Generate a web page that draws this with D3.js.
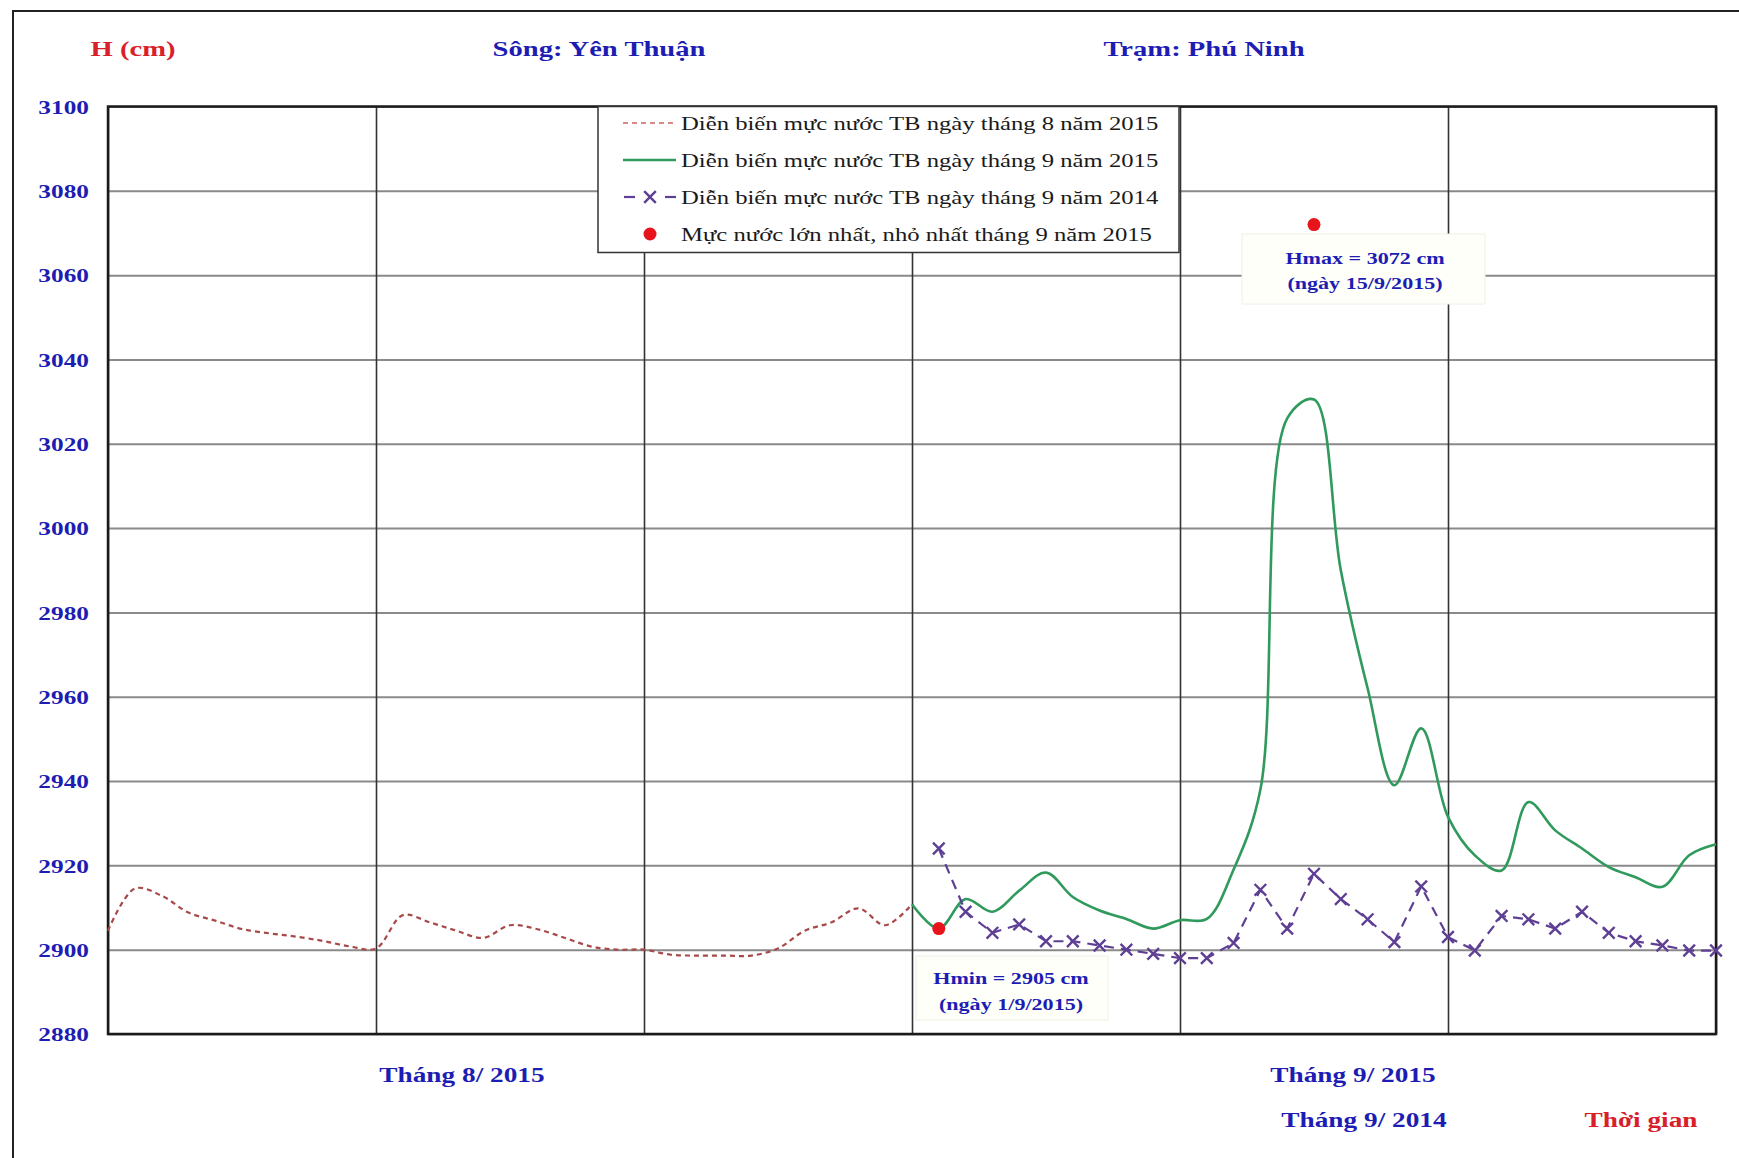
<!DOCTYPE html>
<html>
<head>
<meta charset="utf-8">
<script src="https://cdn.jsdelivr.net/npm/d3@7"></script>
<style>
  body { margin: 0; background: #fff; }
  svg { display: block; }
</style>
</head>
<body>
<div id="chart"></div>
<script>
// day index: 0..30 = 1..31/8/2015, 31..60 = 1..30/9
const aug2015 = [2904.5, 2914.5, 2912.8, 2908.8, 2906.9, 2904.9, 2903.9, 2903.1, 2902.1, 2900.8,
  2900.3, 2908.2, 2906.5, 2904.5, 2902.8, 2905.8, 2904.9, 2902.9, 2900.8, 2900,
  2900, 2898.8, 2898.6, 2898.6, 2898.6, 2900.3, 2904.5, 2906.5, 2909.8, 2905.8, 2910.8];
const sep2015 = [2905, 2912, 2909, 2914, 2918.3, 2912.5, 2909.3, 2907.3, 2905, 2907,
  2907.3, 2919, 2938, 3026, 3030.5, 2990, 2962, 2939, 2952.5, 2931.5,
  2922.4, 2918.8, 2935, 2928.3, 2924, 2919.6, 2917.2, 2914.9, 2922.4, 2925];
const sep2014 = [2924, 2909, 2904, 2906, 2902, 2902, 2901, 2900, 2899, 2898,
  2898, 2901.6, 2914.2, 2905, 2918, 2912, 2907.2, 2901.8, 2915, 2903,
  2899.8, 2908, 2907.2, 2905, 2909, 2904, 2902, 2901, 2899.8, 2899.8];
const extremes = [
  { day: 31, value: 2905, lines: ["Hmin = 2905 cm", "(ngày 1/9/2015)"] },
  { day: 45, value: 3072, lines: ["Hmax = 3072 cm", "(ngày 15/9/2015)"] }
];
const yTicks = [2880, 2900, 2920, 2940, 2960, 2980, 3000, 3020, 3040, 3060, 3080, 3100];
const xGrid = [0, 10, 20, 30, 40, 50, 60];
const legendLabels = [
  "Diễn biến mực nước TB ngày tháng 8 năm 2015",
  "Diễn biến mực nước TB ngày tháng 9 năm 2015",
  "Diễn biến mực nước TB ngày tháng 9 năm 2014",
  "Mực nước lớn nhất, nhỏ nhất tháng 9 năm 2015"
];

var W = 1739, H = 1158;
var pLeft = 108, pRight = 1716, pTop = 106.5, pBottom = 1034;
var font = '"Liberation Serif", "Times New Roman", serif';
var SX = 1.3; // the picture is stretched sideways
var blue = "#1d1db4", red = "#d8202a";
var cAug = "#a84a4a", cSep15 = "#2f9a5c", cSep14 = "#5e3f94";

var svg = d3.select("#chart").append("svg").attr("width", W).attr("height", H);

svg.append("rect").attr("x", 13).attr("y", 11).attr("width", W).attr("height", H)
  .attr("fill", "#fff").attr("stroke", "#222").attr("stroke-width", 2);

var x = d3.scaleLinear().domain([0, 60]).range([pLeft, pRight]);
var y = d3.scaleLinear().domain([2880, 3100]).range([pBottom, pTop]);

function stretched(g, px, py, str, anchor, size, color, weight) {
  return g.append("text")
    .attr("transform", "translate(" + px + "," + py + ") scale(" + SX + ",1)")
    .attr("text-anchor", anchor)
    .style("font-family", font)
    .style("font-size", size + "px")
    .style("font-weight", weight || "bold")
    .style("fill", color)
    .text(str);
}

// grid
svg.append("g")
  .attr("transform", "translate(" + pLeft + ",0)")
  .call(d3.axisLeft(y).tickValues(yTicks).tickSize(-(pRight - pLeft)).tickFormat(""))
  .call(function (g) {
    g.select(".domain").remove();
    g.selectAll("line").attr("stroke", "#8a8a8a").attr("stroke-width", 2);
  });
svg.append("g")
  .attr("transform", "translate(0," + pBottom + ")")
  .call(d3.axisBottom(x).tickValues(xGrid).tickSize(-(pBottom - pTop)).tickFormat(""))
  .call(function (g) {
    g.select(".domain").remove();
    g.selectAll("line").attr("stroke", "#333").attr("stroke-width", 1.6);
  });

svg.append("rect").attr("x", pLeft).attr("y", pTop)
  .attr("width", pRight - pLeft).attr("height", pBottom - pTop)
  .attr("fill", "none").attr("stroke", "#1a1a1a").attr("stroke-width", 2.5);

// y tick labels
svg.append("g")
  .attr("transform", "translate(" + pLeft + ",0)")
  .call(d3.axisLeft(y).tickValues(yTicks).tickSize(0).tickPadding(0).tickFormat(d3.format("d")))
  .call(function (g) {
    g.select(".domain").remove();
    g.selectAll("text")
      .attr("x", -19 / SX)
      .attr("dy", "0.35em")
      .attr("transform", "scale(" + SX + ",1)")
      .style("font-family", font)
      .style("font-size", "19.5px")
      .style("font-weight", "bold")
      .style("fill", blue);
  });

// series
var augPts = aug2015.map(function (v, i) { return [i, v]; });
var sep15Pts = [[30, aug2015[30]]].concat(sep2015.map(function (v, i) { return [31 + i, v]; }));
var sep14Pts = sep2014.map(function (v, i) { return [31 + i, v]; });

var smooth = d3.line().x(function (d) { return x(d[0]); }).y(function (d) { return y(d[1]); })
  .curve(d3.curveCatmullRom.alpha(0.5));
var straight = d3.line().x(function (d) { return x(d[0]); }).y(function (d) { return y(d[1]); });

svg.append("path").datum(augPts).attr("d", smooth)
  .attr("fill", "none").attr("stroke", cAug).attr("stroke-width", 2.2)
  .attr("stroke-dasharray", "5,4");
svg.append("path").datum(sep15Pts).attr("d", smooth)
  .attr("fill", "none").attr("stroke", cSep15).attr("stroke-width", 2.6);
svg.append("path").datum(sep14Pts).attr("d", straight)
  .attr("fill", "none").attr("stroke", cSep14).attr("stroke-width", 2.2)
  .attr("stroke-dasharray", "10,7");

// symbolTimes is a stroked symbol
var cross = d3.symbol().type(d3.symbolTimes).size(90);
svg.selectAll(".mk").data(sep14Pts).enter().append("path")
  .attr("class", "mk")
  .attr("transform", function (d) { return "translate(" + x(d[0]) + "," + y(d[1]) + ")"; })
  .attr("d", cross)
  .attr("fill", "none")
  .attr("stroke", cSep14)
  .attr("stroke-width", 2.4);

// Hmin / Hmax notes
var boxes = [
  { x0: 916, y0: 956, w: 192, h: 64, tx: 1011, ty: [984, 1010] },
  { x0: 1242, y0: 234, w: 243, h: 70, tx: 1365, ty: [264, 289] }
];
extremes.forEach(function (e, k) {
  var b = boxes[k];
  svg.append("rect").attr("x", b.x0).attr("y", b.y0).attr("width", b.w).attr("height", b.h)
    .attr("fill", "#fffffa").attr("stroke", "#f0f0e4").attr("stroke-width", 1);
  e.lines.forEach(function (t, j) {
    stretched(svg, b.tx, b.ty[j], t, "middle", 17, blue);
  });
});
svg.selectAll(".ext").data(extremes).enter().append("circle")
  .attr("class", "ext")
  .attr("cx", function (d) { return x(d.day); })
  .attr("cy", function (d) { return y(d.value); })
  .attr("r", 6.5)
  .attr("fill", "#e8141c");

// legend
var lg = svg.append("g");
lg.append("rect").attr("x", 598).attr("y", pTop).attr("width", 581).attr("height", 146)
  .attr("fill", "#fff").attr("stroke", "#333").attr("stroke-width", 1.5);
var rowY = [123, 160, 197, 234];
lg.append("line").attr("x1", 623).attr("x2", 676).attr("y1", rowY[0]).attr("y2", rowY[0])
  .attr("stroke", "#d98a86").attr("stroke-width", 2).attr("stroke-dasharray", "5,4");
lg.append("line").attr("x1", 623).attr("x2", 676).attr("y1", rowY[1]).attr("y2", rowY[1])
  .attr("stroke", cSep15).attr("stroke-width", 2.6);
[[624, 635], [665, 676]].forEach(function (s) {
  lg.append("line").attr("x1", s[0]).attr("x2", s[1]).attr("y1", rowY[2]).attr("y2", rowY[2])
    .attr("stroke", cSep14).attr("stroke-width", 2.2);
});
lg.append("path").attr("transform", "translate(650," + rowY[2] + ")").attr("d", cross)
  .attr("fill", "none").attr("stroke", cSep14).attr("stroke-width", 2.4);
lg.append("circle").attr("cx", 650).attr("cy", rowY[3]).attr("r", 6.5).attr("fill", "#e8141c");
legendLabels.forEach(function (t, i) {
  stretched(lg, 681, rowY[i] + 7, t, "start", 19, "#1a1a1a", "normal");
});

// titles
stretched(svg, 133, 56, "H (cm)", "middle", 22, red);
stretched(svg, 599, 56, "Sông: Yên Thuận", "middle", 22, blue);
stretched(svg, 1204, 56, "Trạm: Phú Ninh", "middle", 22, blue);
stretched(svg, 462, 1082, "Tháng 8/ 2015", "middle", 21, blue);
stretched(svg, 1353, 1082, "Tháng 9/ 2015", "middle", 21, blue);
stretched(svg, 1364, 1127, "Tháng 9/ 2014", "middle", 21, blue);
stretched(svg, 1641, 1127, "Thời gian", "middle", 21, red);
</script>
</body>
</html>
